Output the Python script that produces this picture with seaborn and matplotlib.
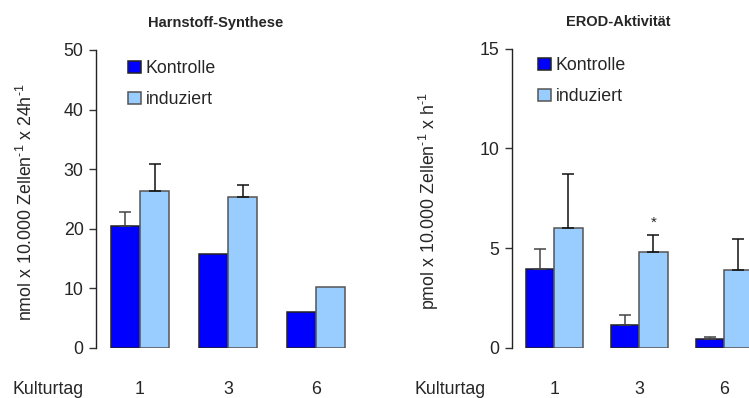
import matplotlib
matplotlib.use("Agg")
import matplotlib.pyplot as plt
import seaborn as sns
import pandas as pd
import numpy as np

# ---- data ----
days = ["1", "3", "6"]
groups = ["Kontrolle", "induziert"]

harn_kontrolle = [20.5, 15.7, 6.1]
harn_kontrolle_err = [22.9, None, None]
harn_induziert = [26.4, 25.3, 10.3]
harn_induziert_err = [30.8, 27.3, None]

erod_kontrolle = [3.96, 1.14, 0.44]
erod_kontrolle_err = [4.94, 1.64, 0.55]
erod_induziert = [6.02, 4.82, 3.90]
erod_induziert_err = [8.73, 5.64, 5.47]

harn_yticks = [0, 10, 20, 30, 40, 50]
erod_yticks = [0, 5, 10, 15]

sns.set_style("white")
plt.rcParams["font.family"] = ["Liberation Sans", "DejaVu Sans"]
plt.rcParams["mathtext.fontset"] = "custom"
plt.rcParams["mathtext.rm"] = "Liberation Sans"
plt.rcParams["mathtext.it"] = "Liberation Sans:italic"
plt.rcParams["mathtext.bf"] = "Liberation Sans:bold"

W, H = 749, 398
fig = plt.figure(figsize=(W / 100, H / 100), dpi=100)

colors = ["#0000FF", "#99CCFF"]
edgecols = ["#222222", "#555555"]
errcols = ["#444444", "#111111"]
FS = 12.8


def px_axes(x0, y_bottom, w, h):
    return fig.add_axes([x0 / W, 1 - y_bottom / H, w / W, h / H])


def panel(ax, kon, kon_err, ind, ind_err, yticks, ylabel, leg_anchor,
          star_idx=None, label_x=-0.26):
    df = pd.DataFrame({
        "Kulturtag": days * 2,
        "Wert": list(kon) + list(ind),
        "Gruppe": [groups[0]] * 3 + [groups[1]] * 3,
    })
    sns.barplot(data=df, x="Kulturtag", y="Wert", hue="Gruppe", order=days,
                hue_order=groups, palette=colors, saturation=1, width=0.67,
                gap=0, errorbar=None, edgecolor="#333333", linewidth=1.1,
                ax=ax)
    for ci, (cont, errs, vals) in enumerate(zip(ax.containers[:2],
                                                 [kon_err, ind_err],
                                                 [kon, ind])):
        for bar in cont:
            bar.set_edgecolor(edgecols[ci])
        xs, ys, ups = [], [], []
        for bar, e, v in zip(cont, errs, vals):
            if e is None:
                continue
            xs.append(bar.get_x() + bar.get_width() / 2)
            ys.append(v)
            ups.append(e - v)
        if xs:
            ax.errorbar(xs, ys, yerr=[np.zeros(len(ups)), ups], fmt="none",
                        ecolor=errcols[ci], elinewidth=1.1, capsize=4,
                        capthick=1.1, zorder=1)
        if star_idx is not None and ci == 1:
            bar = list(cont)[star_idx]
            ax.annotate("*", (bar.get_x() + bar.get_width() / 2, errs[star_idx]),
                        xytext=(0, 4), textcoords="offset points",
                        ha="center", va="bottom", fontsize=11)

    ax.set_xlim(-0.5, 2.5)
    ax.set_ylim(yticks[0], yticks[-1])
    ax.set_yticks(yticks)
    ax.set_yticklabels([str(t) for t in yticks], fontsize=FS)
    ax.set_xticks(range(3))
    ax.set_xticklabels(days, fontsize=FS)
    ax.tick_params(axis="x", length=0, pad=24)
    ax.tick_params(axis="y", direction="out", length=5, width=1,
                   color="#333333", pad=4, left=True)
    ax.set_xlabel("")
    ax.set_ylabel(ylabel, fontsize=FS, va="center")
    ax.yaxis.set_label_coords(label_x, 0.49)
    for s in ["top", "right", "bottom"]:
        ax.spines[s].set_visible(False)
    ax.spines["left"].set_color("#222222")
    ax.spines["left"].set_linewidth(1)
    ax.patch.set_alpha(0)

    handles, labels = ax.get_legend_handles_labels()
    leg = ax.legend(handles, labels, loc="upper left",
                    bbox_to_anchor=(leg_anchor[0] / W, 1 - leg_anchor[1] / H),
                    bbox_transform=fig.transFigure, frameon=False,
                    fontsize=FS, handlelength=0.75, handleheight=0.7,
                    handletextpad=0.25, labelspacing=0.8, borderpad=0,
                    borderaxespad=0)
    for h, ec in zip(leg.legend_handles, edgecols):
        h.set_edgecolor(ec)
        h.set_linewidth(1.1)


ax1 = px_axes(96, 348, 264, 298)
panel(ax1, harn_kontrolle, harn_kontrolle_err, harn_induziert,
      harn_induziert_err, harn_yticks,
      r"nmol x 10.000 Zellen$^{\text{-1}}$ x 24h$^{\text{-1}}$", (128, 60),
      label_x=(26 - 96) / 264)

ax2 = px_axes(511.7, 347.7, 255, 299)
panel(ax2, erod_kontrolle, erod_kontrolle_err, erod_induziert,
      erod_induziert_err, erod_yticks,
      r"pmol x 10.000 Zellen$^{\text{-1}}$ x h$^{\text{-1}}$", (538, 57),
      star_idx=1, label_x=(429 - 511.7) / 255)

fig.text(216 / W, 1 - 23 / H, "Harnstoff-Synthese", ha="center",
         va="center", fontsize=10.5, fontweight="bold")
fig.text(618 / W, 1 - 22 / H, "EROD-Aktivität", ha="center",
         va="center", fontsize=10.5, fontweight="bold")

fig.text(13 / W, 1 - 389 / H, "Kulturtag", ha="left", va="center",
         fontsize=FS)
fig.text(415 / W, 1 - 389 / H, "Kulturtag", ha="left", va="center",
         fontsize=FS)

fig.savefig("out.png", dpi=100)
